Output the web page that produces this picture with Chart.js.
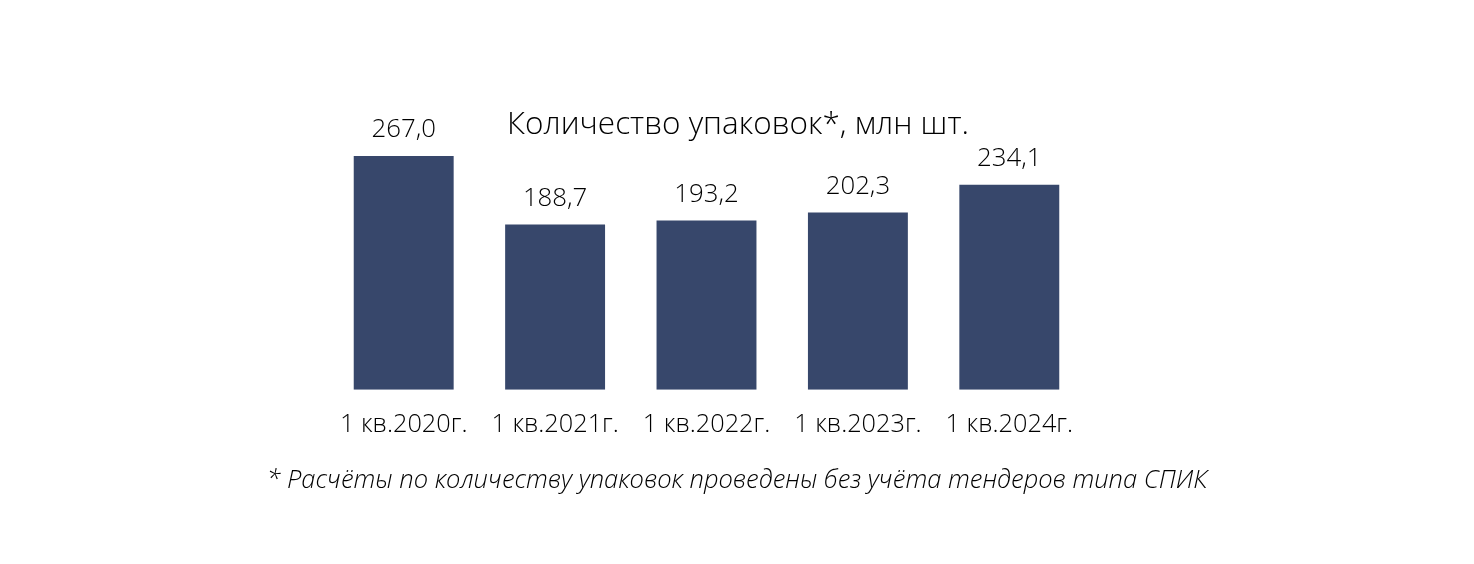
<!DOCTYPE html>
<html><head><meta charset="utf-8">
<script src="https://cdn.jsdelivr.net/npm/chart.js@4.4.0/dist/chart.umd.min.js"></script>
<style>html,body{margin:0;padding:0;background:#fff}#wrap{width:1474px;height:564px;position:relative}</style>
</head><body><div id="wrap"><canvas id="c" width="1474" height="564"></canvas></div>
<script>
const categories = ['1 кв.2020г.', '1 кв.2021г.', '1 кв.2022г.', '1 кв.2023г.', '1 кв.2024г.'];
const values = [267.0, 188.7, 193.2, 202.3, 234.1];
const valueLabels = ['267,0', '188,7', '193,2', '202,3', '234,1'];
const titleText = 'Количество упаковок*, млн шт.';
const footnoteText = '* Расчёты по количеству упаковок проведены без учёта тендеров типа СПИК';

const FONT = '"Open Sans", Lato, sans-serif';
const overlay = {
  id: 'overlay',
  afterDatasetsDraw(chart) {
    const ctx = chart.ctx;
    const meta = chart.getDatasetMeta(0);
    ctx.save();
    ctx.fillStyle = '#000';
    ctx.textAlign = 'center';
    ctx.textBaseline = 'middle';
    ctx.font = '300 25.8px ' + FONT;
    meta.data.forEach((bar, i) => {
      ctx.fillText(valueLabels[i], bar.x, bar.y - 26);
    });
    ctx.font = '300 31.5px ' + FONT;
    ctx.fillText(titleText, 738, 125);
    ctx.font = 'italic 300 25.5px ' + FONT;
    ctx.fillText(footnoteText, 737, 481);
    ctx.restore();
  }
};

new Chart(document.getElementById('c'), {
  type: 'bar',
  data: {
    labels: categories,
    datasets: [{ data: values, backgroundColor: '#37476b', barPercentage: 0.66, categoryPercentage: 1.0 }]
  },
  options: {
    responsive: false,
    animation: false,
    devicePixelRatio: 1,
    layout: { padding: { left: 328, right: 389, top: 127, bottom: 104 } },
    plugins: { legend: { display: false }, tooltip: { enabled: false } },
    scales: {
      x: {
        grid: { display: false, drawTicks: false },
        border: { display: false },
        ticks: { color: '#000', font: { family: FONT, size: 25.3, weight: 300 }, padding: 20, maxRotation: 0 }
      },
      y: { display: false, min: 0, max: 300 }
    }
  },
  plugins: [overlay]
});
</script></body></html>
